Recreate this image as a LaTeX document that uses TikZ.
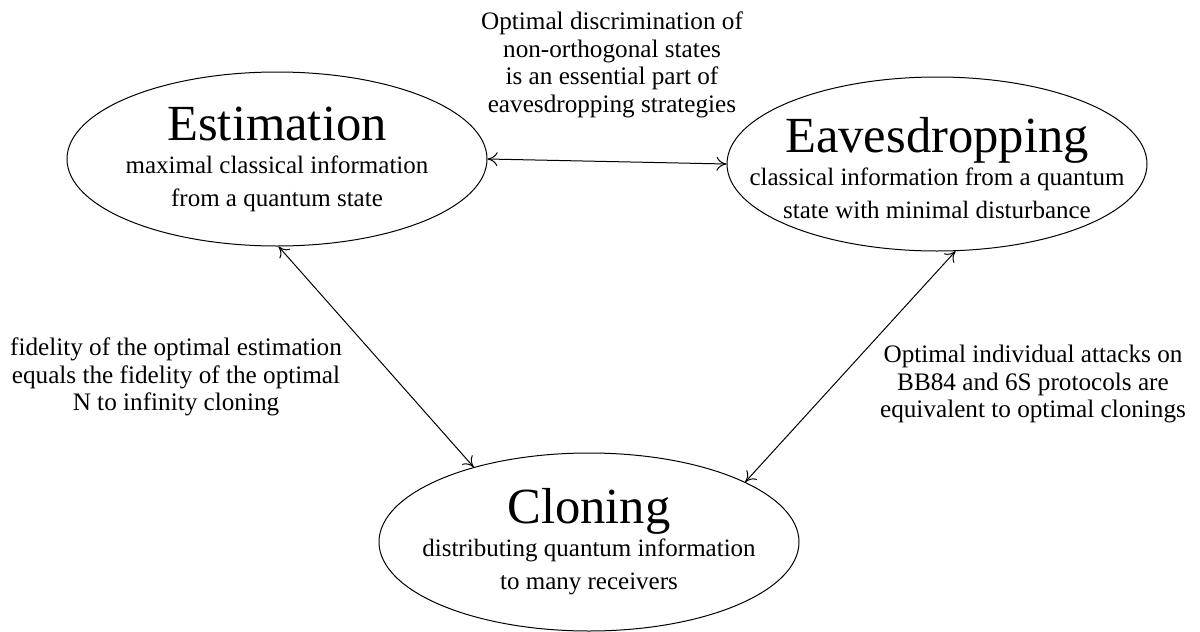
\documentclass[tikz,border=0pt]{standalone}
\usepackage{fontspec}
\setmainfont{Liberation Serif}
\usepackage{tikz}
\usetikzlibrary{arrows.meta, positioning, shapes.geometric}

\newcommand{\bigname}[1]{{\fontsize{25.3}{29}\selectfont #1}}

\begin{document}
\begin{tikzpicture}[
    x=0.5pt, y=-0.5pt,
    blob/.style={ellipse, draw, line width=0.5pt, minimum width=210pt, minimum height=87pt, inner sep=0pt},
    blobtext/.style={align=center, inner sep=0pt, font=\fontsize{12.5}{16.5}\selectfont},
    note/.style={align=center, inner sep=0pt, font=\fontsize{12.6}{13.8}\selectfont},
    link/.style={{To[length=5pt,width=7pt]}-{To[length=5pt,width=7pt]}, line width=0.5pt}
]
    \useasboundingbox (0,0) rectangle (1200,632);

    \node[blob] (est) at (277,159) {};
    \node[blob] (eav) at (937,164) {};
    \node[blob, minimum height=89pt] (clo) at (589,542) {};

    \node[blobtext] (est-txt) at (est) {\bigname{Estimation}\\ maximal classical information\\ from a quantum state};
    \node[blobtext] (eav-txt) at ([yshift=-2pt]eav) {\bigname{Eavesdropping}\\ classical information from a quantum\\ state with minimal disturbance};
    \node[blobtext] (clo-txt) at (clo) {\bigname{Cloning}\\ distributing quantum information\\ to many receivers};

    \draw[link] (est.east) -- (eav.west);
    \draw[link] (est.-89) -- (clo.147);
    \draw[link] (eav.-78) -- (clo.21);

    \node[note] (top-note) at (612,65) {Optimal discrimination of\\ non-orthogonal states\\ is an essential part of\\ eavesdropping strategies};
    \node[note] (left-note) at (176,377) {fidelity of the optimal estimation\\ equals the fidelity of the optimal\\ N to infinity cloning};
    \node[note] (right-note) at (1033,384) {Optimal individual attacks on\\ BB84 and 6S protocols are\\ equivalent to optimal clonings};
\end{tikzpicture}
\end{document}
